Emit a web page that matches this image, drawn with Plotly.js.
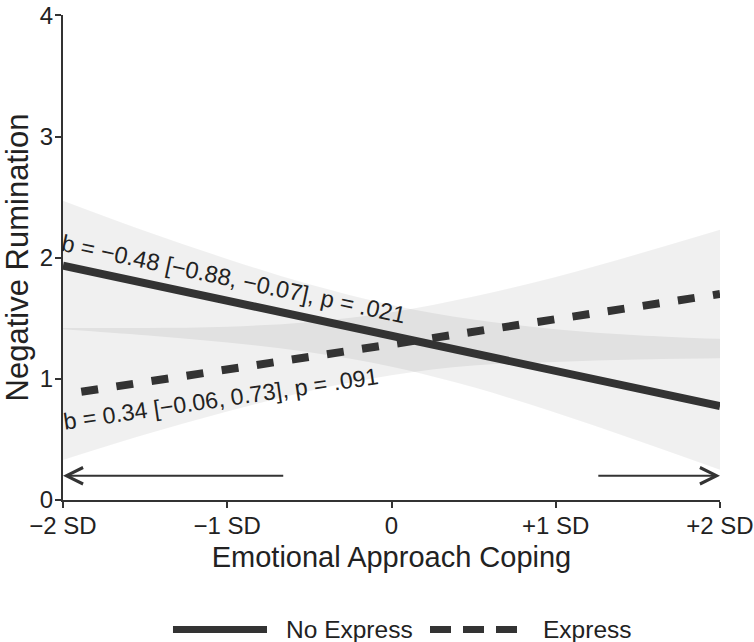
<!DOCTYPE html>
<html>
<head>
<meta charset="utf-8">
<script src="https://cdn.plot.ly/plotly-3.0.1.min.js"></script>
<style>
  html, body { margin: 0; padding: 0; background: #fff; }
  #plot { width: 754px; height: 642px; }
</style>
</head>
<body>
<div id="plot"></div>
<script>
// x positions, in SD units of emotional approach coping
var xs = [-2, -1.5, -1, -0.5, 0, 0.5, 1, 1.5, 2];
var xTickVals = [-2, -1, 0, 1, 2];
var xTickText = ["\u22122 SD", "\u22121 SD", "0", "+1 SD", "+2 SD"];
var yTickVals = [0, 1, 2, 3, 4];

// simple slopes, read at -2 SD and +2 SD
var lineX = [-2, 2];
var noExpress = [1.935, 0.775];
var express = [0.87, 1.70];

// 95% confidence bands
var noExpressLo = [1.41, 1.36, 1.30, 1.22, 1.10, 0.93, 0.72, 0.49, 0.25];
var noExpressHi = [2.47, 2.22, 1.99, 1.78, 1.61, 1.49, 1.41, 1.36, 1.33];
var expressLo = [0.33, 0.54, 0.73, 0.90, 1.03, 1.11, 1.14, 1.16, 1.17];
var expressHi = [1.42, 1.42, 1.43, 1.47, 1.55, 1.68, 1.84, 2.03, 2.23];

// region arrows near the bottom of the panel
var arrowY = 0.2;
var arrowLeft = [-0.65, -2];   // tail, tip
var arrowRight = [1.25, 2];

var ink = "#333333";
var textInk = "#222222";
var bandFill = "rgba(0,0,0,0.06)";
var fontFam = "Liberation Sans, Arial, sans-serif";

var bandLine = {width: 0, color: "rgba(0,0,0,0)", shape: "spline"};

var traces = [
  {x: xs, y: noExpressLo, type: "scatter", mode: "lines", line: bandLine,
   hoverinfo: "skip", showlegend: false},
  {x: xs, y: noExpressHi, type: "scatter", mode: "lines", line: bandLine,
   fill: "tonexty", fillcolor: bandFill, hoverinfo: "skip", showlegend: false},
  {x: xs, y: expressLo, type: "scatter", mode: "lines", line: bandLine,
   hoverinfo: "skip", showlegend: false},
  {x: xs, y: expressHi, type: "scatter", mode: "lines", line: bandLine,
   fill: "tonexty", fillcolor: bandFill, hoverinfo: "skip", showlegend: false},
  {x: lineX, y: noExpress, type: "scatter", mode: "lines", name: "No Express",
   line: {color: ink, width: 8}, showlegend: false},
  {x: lineX, y: express, type: "scatter", mode: "lines", name: "Express",
   line: {color: ink, width: 8, dash: "0px,18.5px,17px,0px"}, showlegend: false}
];

function arrow(pair) {
  return {
    x: pair[1], y: arrowY, ax: pair[0], ay: arrowY,
    xref: "x", yref: "y", axref: "x", ayref: "y",
    text: "", showarrow: true, arrowhead: 5, arrowsize: 1.8, arrowwidth: 1.8,
    arrowcolor: ink, standoff: 0, startstandoff: 0
  };
}

var annotations = [
  {x: -0.965, y: 1.82, xref: "x", yref: "y", showarrow: false, textangle: 12,
   text: "b = \u22120.48 [\u22120.88, \u22120.07], p = .021",
   font: {family: fontFam, size: 23.6, color: textInk}},
  {x: -1.04, y: 0.83, xref: "x", yref: "y", showarrow: false, textangle: -8.3,
   text: "b = 0.34 [\u22120.06, 0.73], p = .091",
   font: {family: fontFam, size: 23.2, color: textInk}},
  arrow(arrowLeft),
  arrow(arrowRight),
  // legend labels
  {x: 0.337, y: -0.266, xref: "paper", yref: "paper", xanchor: "left", yanchor: "middle",
   showarrow: false, text: "No Express", font: {family: fontFam, size: 24.5, color: textInk}},
  {x: 0.728, y: -0.266, xref: "paper", yref: "paper", xanchor: "left", yanchor: "middle",
   showarrow: false, text: "Express", font: {family: fontFam, size: 24.5, color: textInk}}
];

// legend keys
var shapes = [
  {type: "line", xref: "paper", yref: "paper", x0: 0.1674, x1: 0.3105, y0: -0.267, y1: -0.267,
   line: {color: ink, width: 7}},
  {type: "line", xref: "paper", yref: "paper", x0: 0.5586, x1: 0.6925, y0: -0.267, y1: -0.267,
   line: {color: ink, width: 7, dash: "21px,12px"}}
];

var layout = {
  width: 754,
  height: 642,
  margin: {l: 63, r: 34, t: 15, b: 142},
  paper_bgcolor: "#ffffff",
  plot_bgcolor: "#ffffff",
  font: {family: fontFam, color: textInk},
  showlegend: false,
  xaxis: {
    range: [-2, 2],
    tickvals: xTickVals,
    ticktext: xTickText,
    ticks: "outside", ticklen: 6, tickwidth: 2, tickcolor: ink,
    ticklabelstandoff: -3,
    showline: true, linewidth: 2, linecolor: ink,
    showgrid: false, zeroline: false, automargin: false,
    tickfont: {size: 24, color: textInk},
    title: {text: "Emotional Approach Coping", font: {size: 29, color: textInk}, standoff: 9}
  },
  yaxis: {
    range: [0, 4.003],
    tickvals: yTickVals,
    ticktext: ["0", "1", "2", "3", "4"],
    ticks: "outside", ticklen: 6, tickwidth: 2, tickcolor: ink,
    ticklabelstandoff: -3,
    ticklabeloverflow: "allow",
    showline: true, linewidth: 2, linecolor: ink,
    showgrid: false, zeroline: false, automargin: false,
    tickfont: {size: 24, color: textInk},
    title: {text: "Negative Rumination", font: {size: 31, color: textInk}, standoff: 10}
  },
  annotations: annotations,
  shapes: shapes
};

Plotly.newPlot("plot", traces, layout, {displayModeBar: false, staticPlot: true});
</script>
</body>
</html>
